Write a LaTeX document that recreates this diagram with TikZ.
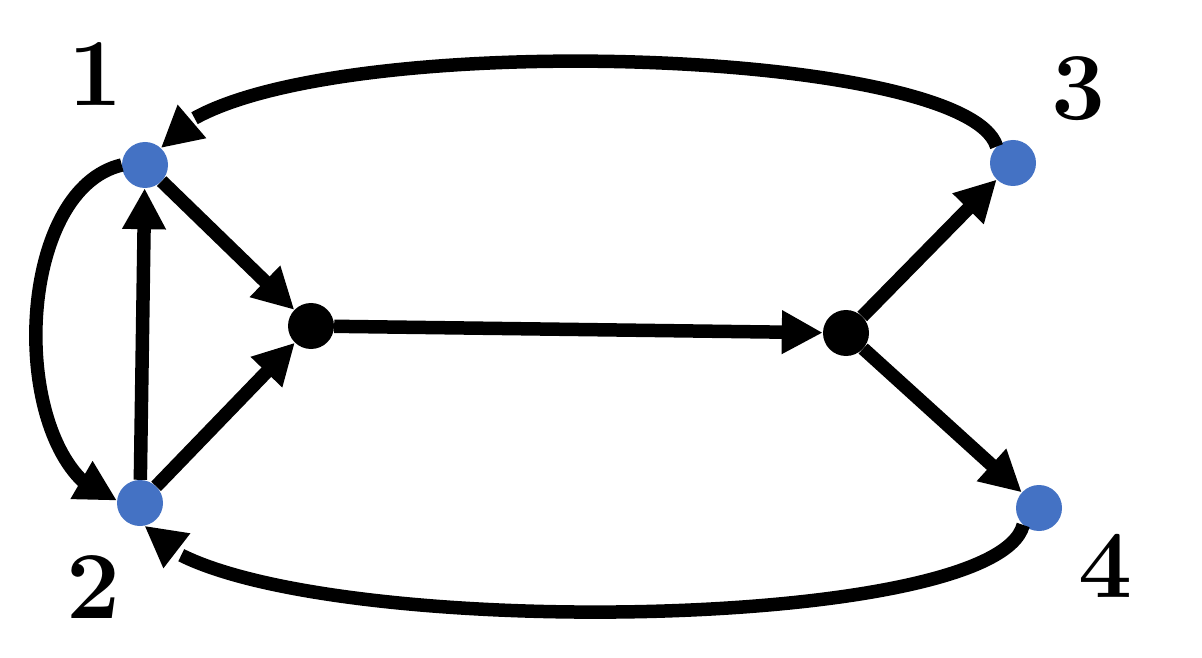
\documentclass[tikz,border=0pt]{standalone}
\usetikzlibrary{arrows.meta,bending}
\definecolor{nodeblue}{HTML}{4472C4}
\begin{document}
\begin{tikzpicture}[x=1pt,y=1pt,
  bluedot/.style={circle,fill=nodeblue,draw=none,minimum size=46pt,inner sep=0pt},
  blackdot/.style={circle,fill=black,draw=none,minimum size=46pt,inner sep=0pt},
  lbl/.style={inner sep=0pt,font=\fontsize{96}{96}\selectfont\bfseries},
  edge/.style={line width=13.5pt,draw=black,-{Triangle[length=41pt,width=41pt,flex]}}]
\useasboundingbox (0,0) rectangle (1202,657);
\fill[white] (0,0) rectangle (1202,657);
% nodes
\node[bluedot] (n1) at (145,492) {};
\node[bluedot] (n2) at (140,154) {};
\node[bluedot] (n3) at (1013,494) {};
\node[bluedot] (n4) at (1039,149) {};
\node[blackdot] (A) at (311,331) {};
\node[blackdot] (B) at (846,324) {};
% labels
\node[lbl] (l1) at (96,583) {1};
\node[lbl] (l2) at (94,70) {2};
\node[lbl] (l3) at (1079,568) {3};
\node[lbl] (l4) at (1106,91) {4};
% straight edges
\draw[edge] (n1) -- (A);
\draw[edge] (n2) -- (A);
\draw[edge] (n2) -- (n1);
\draw[edge] (A) -- (B);
\draw[edge] (B) -- (n3);
\draw[edge] (B) -- (n4);
% curved edges
\draw[edge] (n3.135) .. controls (965,617) and (230,632) .. (n1.47);
\draw[edge] (n4.227) .. controls (994,17) and (214,15) .. (n2.281);
\draw[edge] (n1.180) .. controls (8,465) and (8,183) .. (n2.174);
\end{tikzpicture}
\end{document}
